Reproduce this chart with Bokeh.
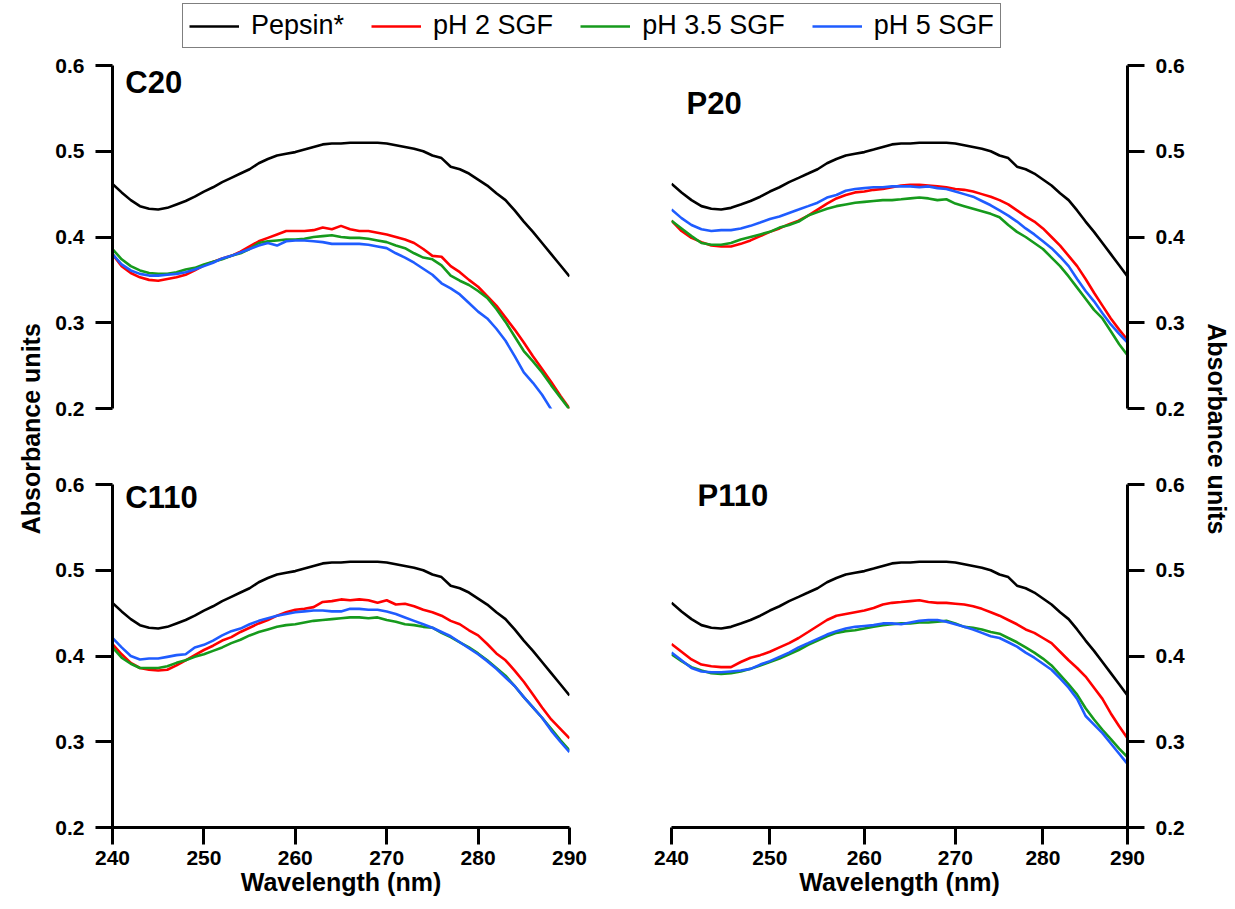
import math
from bokeh.plotting import figure
from bokeh.models import (Range1d, FixedTicker, PrintfTickFormatter, Label,
                          Legend, LegendItem, LogScale)
from bokeh.layouts import row, column
from bokeh.embed import file_html
from bokeh.resources import INLINE

NAN = float("nan")

# ---------------- data ----------------
wavelength = list(range(240, 291))

pepsin = [0.462, 0.452, 0.443, 0.436, 0.433, 0.432, 0.434, 0.438, 0.442, 0.447,
          0.453, 0.458, 0.464, 0.469, 0.474, 0.479, 0.486, 0.491, 0.495, 0.497,
          0.499, 0.502, 0.505, 0.508, 0.509, 0.509, 0.510, 0.510, 0.510, 0.510,
          0.509, 0.507, 0.505, 0.503, 0.500, 0.495, 0.492, 0.482, 0.479, 0.474,
          0.467, 0.460, 0.451, 0.443, 0.431, 0.418, 0.406, 0.393, 0.380, 0.367,
          0.354]

c20_ph2 = [0.380, 0.366, 0.358, 0.353, 0.350, 0.349, 0.351, 0.353, 0.356, 0.361,
           0.367, 0.371, 0.375, 0.378, 0.383, 0.389, 0.395, 0.399, 0.403, 0.407,
           0.407, 0.407, 0.408, 0.411, 0.409, 0.413, 0.409, 0.407, 0.407, 0.405,
           0.403, 0.400, 0.397, 0.393, 0.386, 0.378, 0.377, 0.366, 0.359, 0.350,
           0.342, 0.331, 0.320, 0.306, 0.292, 0.277, 0.261, 0.246, 0.231, 0.215,
           0.200]
c20_ph35 = [0.386, 0.374, 0.366, 0.361, 0.358, 0.357, 0.357, 0.359, 0.362, 0.364,
            0.368, 0.371, 0.374, 0.378, 0.381, 0.386, 0.393, 0.395, 0.396, 0.397,
            0.397, 0.398, 0.400, 0.401, 0.402, 0.400, 0.399, 0.399, 0.398, 0.396,
            0.394, 0.390, 0.387, 0.381, 0.376, 0.374, 0.367, 0.355, 0.349, 0.344,
            0.337, 0.329, 0.316, 0.301, 0.284, 0.267, 0.255, 0.242, 0.227, 0.213,
            0.199]
c20_ph5 = [0.380, 0.368, 0.361, 0.357, 0.355, 0.355, 0.356, 0.357, 0.359, 0.362,
           0.366, 0.370, 0.375, 0.378, 0.382, 0.386, 0.390, 0.393, 0.390, 0.395,
           0.396, 0.396, 0.395, 0.394, 0.392, 0.392, 0.392, 0.392, 0.391, 0.389,
           0.387, 0.381, 0.376, 0.370, 0.363, 0.356, 0.346, 0.340, 0.333, 0.323,
           0.313, 0.305, 0.293, 0.279, 0.261, 0.242, 0.230, 0.216, 0.199, NAN,
           NAN]

p20_ph2 = [0.419, 0.407, 0.399, 0.394, 0.390, 0.389, 0.389, 0.392, 0.396, 0.401,
           0.406, 0.410, 0.415, 0.419, 0.425, 0.432, 0.439, 0.445, 0.449, 0.452,
           0.453, 0.455, 0.456, 0.458, 0.460, 0.461, 0.461, 0.460, 0.459, 0.458,
           0.456, 0.455, 0.453, 0.450, 0.447, 0.443, 0.438, 0.431, 0.424, 0.418,
           0.410, 0.400, 0.390, 0.378, 0.366, 0.351, 0.335, 0.320, 0.305, 0.292,
           0.280]
p20_ph35 = [0.419, 0.410, 0.401, 0.393, 0.391, 0.391, 0.393, 0.397, 0.400, 0.403,
            0.406, 0.411, 0.414, 0.418, 0.425, 0.429, 0.433, 0.436, 0.438, 0.440,
            0.441, 0.442, 0.443, 0.443, 0.444, 0.445, 0.446, 0.445, 0.443, 0.444,
            0.439, 0.436, 0.433, 0.430, 0.427, 0.423, 0.414, 0.406, 0.400, 0.393,
            0.386, 0.376, 0.366, 0.354, 0.341, 0.328, 0.315, 0.305, 0.290, 0.275,
            0.262]
p20_ph5 = [0.432, 0.422, 0.414, 0.409, 0.407, 0.408, 0.408, 0.410, 0.413, 0.417,
           0.421, 0.424, 0.428, 0.432, 0.436, 0.440, 0.446, 0.449, 0.454, 0.456,
           0.457, 0.458, 0.458, 0.459, 0.459, 0.459, 0.458, 0.459, 0.457, 0.456,
           0.453, 0.450, 0.447, 0.442, 0.437, 0.431, 0.425, 0.418, 0.410, 0.403,
           0.395, 0.387, 0.377, 0.366, 0.351, 0.337, 0.325, 0.311, 0.298, 0.287,
           0.277]

c110_ph2 = [0.414, 0.402, 0.392, 0.386, 0.384, 0.383, 0.384, 0.389, 0.395, 0.401,
            0.407, 0.412, 0.418, 0.422, 0.428, 0.433, 0.438, 0.442, 0.447, 0.451,
            0.454, 0.455, 0.457, 0.463, 0.464, 0.466, 0.465, 0.466, 0.465, 0.462,
            0.465, 0.460, 0.461, 0.458, 0.454, 0.451, 0.447, 0.441, 0.437, 0.430,
            0.424, 0.414, 0.403, 0.395, 0.383, 0.370, 0.355, 0.340, 0.326, 0.315,
            0.304]
c110_ph35 = [0.410, 0.398, 0.391, 0.386, 0.386, 0.386, 0.388, 0.392, 0.395, 0.399,
             0.402, 0.406, 0.410, 0.415, 0.419, 0.424, 0.428, 0.431, 0.434, 0.436,
             0.437, 0.439, 0.441, 0.442, 0.443, 0.444, 0.445, 0.445, 0.444, 0.445,
             0.442, 0.440, 0.437, 0.436, 0.434, 0.433, 0.427, 0.422, 0.416, 0.410,
             0.403, 0.395, 0.386, 0.377, 0.365, 0.352, 0.340, 0.328, 0.315, 0.302,
             0.290]
c110_ph5 = [0.421, 0.410, 0.400, 0.396, 0.397, 0.397, 0.399, 0.401, 0.402, 0.410,
            0.413, 0.418, 0.424, 0.429, 0.432, 0.437, 0.441, 0.444, 0.447, 0.449,
            0.451, 0.452, 0.453, 0.453, 0.452, 0.452, 0.455, 0.455, 0.454, 0.454,
            0.452, 0.449, 0.445, 0.441, 0.437, 0.433, 0.428, 0.423, 0.416, 0.409,
            0.402, 0.394, 0.385, 0.375, 0.365, 0.352, 0.340, 0.328, 0.313, 0.300,
            0.288]

p110_ph2 = [0.414, 0.405, 0.396, 0.390, 0.388, 0.387, 0.387, 0.393, 0.398, 0.401,
            0.405, 0.410, 0.415, 0.421, 0.428, 0.435, 0.442, 0.447, 0.449, 0.451,
            0.453, 0.456, 0.460, 0.462, 0.463, 0.464, 0.465, 0.463, 0.462, 0.462,
            0.461, 0.460, 0.458, 0.455, 0.451, 0.447, 0.442, 0.437, 0.431, 0.427,
            0.421, 0.415, 0.405, 0.395, 0.386, 0.376, 0.363, 0.350, 0.333, 0.318,
            0.304]
p110_ph35 = [0.402, 0.394, 0.387, 0.383, 0.380, 0.379, 0.380, 0.382, 0.385, 0.389,
             0.393, 0.397, 0.402, 0.407, 0.413, 0.418, 0.423, 0.427, 0.429, 0.430,
             0.432, 0.434, 0.436, 0.437, 0.438, 0.438, 0.439, 0.439, 0.440, 0.441,
             0.438, 0.434, 0.433, 0.431, 0.428, 0.426, 0.421, 0.416, 0.410, 0.404,
             0.397, 0.389, 0.378, 0.367, 0.355, 0.339, 0.326, 0.314, 0.303, 0.292,
             0.282]
p110_ph5 = [0.404, 0.395, 0.386, 0.382, 0.381, 0.381, 0.382, 0.383, 0.385, 0.390,
            0.394, 0.399, 0.404, 0.410, 0.415, 0.420, 0.425, 0.429, 0.432, 0.434,
            0.435, 0.436, 0.438, 0.438, 0.437, 0.439, 0.441, 0.442, 0.442, 0.440,
            0.437, 0.434, 0.431, 0.427, 0.423, 0.421, 0.416, 0.411, 0.404, 0.398,
            0.391, 0.384, 0.374, 0.363, 0.350, 0.330, 0.320, 0.310, 0.298, 0.286,
            0.274]

series_names = ["Pepsin*", "pH 2 SGF", "pH 3.5 SGF", "pH 5 SGF"]
x_ticks = [240, 250, 260, 270, 280, 290]
y_ticks = [0.2, 0.3, 0.4, 0.5, 0.6]

# ---------------- style ----------------
FONT = "Liberation Sans"
COLORS = ["#000000", "#ff0000", "#169a1c", "#1f5cff"]
LW = 2.6


def style_axis(ax, ticks, fmt):
    ax.ticker = FixedTicker(ticks=ticks)
    ax.formatter = PrintfTickFormatter(format=fmt)
    ax.axis_line_width = 3
    ax.axis_line_color = "black"
    ax.major_tick_line_width = 3
    ax.major_tick_line_color = "black"
    ax.major_tick_out = 17
    ax.major_tick_in = 0
    ax.minor_tick_line_color = None
    ax.major_label_text_font = FONT
    ax.major_label_text_font_style = "bold"
    ax.major_label_text_font_size = "21px"
    ax.major_label_text_color = "black"


def panel(data, label, lx, ly, log_x, y_side, show_x, height, borders):
    left, right, top, bottom = borders
    p = figure(width=570, height=height,
               x_range=Range1d(240, 290), y_range=Range1d(0.2, 0.6),
               x_axis_type="log" if log_x else "linear",
               x_axis_location="below" if show_x else None,
               y_axis_location=y_side,
               output_backend="svg", toolbar_location=None,
               min_border_left=left, min_border_right=right,
               min_border_top=top, min_border_bottom=bottom)
    if log_x:
        p.x_scale = LogScale()
    p.outline_line_color = None
    p.grid.visible = False
    p.background_fill_color = "white"
    p.border_fill_color = "white"
    for ys, c in zip(data, COLORS):
        p.line(wavelength, ys, line_color=c, line_width=LW)
    for ax in p.yaxis:
        style_axis(ax, y_ticks, "%.1f")
        ax.major_label_standoff = 11
    if show_x:
        for ax in p.xaxis:
            style_axis(ax, x_ticks, "%d")
            ax.major_label_standoff = 6
            ax.axis_label = "Wavelength (nm)"
            ax.axis_label_text_font = FONT
            ax.axis_label_text_font_style = "bold"
            ax.axis_label_text_font_size = "25px"
            ax.axis_label_standoff = 0
            ax.axis_label_text_color = "black"
    p.add_layout(Label(x=lx, y=ly, text=label, text_font=FONT,
                       text_font_style="bold", text_font_size="31px",
                       text_align="left", text_baseline="middle",
                       text_color="black"))
    return p


tl = panel([pepsin, c20_ph2, c20_ph35, c20_ph5], "C20", 241.4, 0.58,
           False, "left", False, 397, (62, 51, 16, 38))
tr = panel([pepsin, p20_ph2, p20_ph35, p20_ph5], "P20", 241.5, 0.556,
           True, "right", False, 397, (51, 63, 16, 38))
bl = panel([pepsin, c110_ph2, c110_ph35, c110_ph5], "C110", 241.4, 0.585,
           False, "left", True, 463, (62, 51, 38, 82))
br = panel([pepsin, p110_ph2, p110_ph35, p110_ph5], "P110", 242.6, 0.587,
           True, "right", True, 463, (51, 63, 38, 82))


def blank(width, height):
    f = figure(width=width, height=height, x_range=Range1d(0, 1),
               y_range=Range1d(0, 1), x_axis_location=None,
               y_axis_location=None, output_backend="svg",
               toolbar_location=None, min_border=0)
    f.outline_line_color = None
    f.grid.visible = False
    return f


# legend strip
lg = blank(1227, 49)
items = []
for name, ys, c in zip(series_names, [pepsin, c20_ph2, c20_ph35, c20_ph5], COLORS):
    r = lg.line(wavelength, ys, line_color=c, line_width=LW)
    items.append(LegendItem(label=name, renderers=[r]))
legend = Legend(items=items, orientation="horizontal", location=(182, 1),
                label_text_font=FONT, label_text_font_size="27px",
                label_text_color="black", glyph_width=50, glyph_height=20,
                label_standoff=12, spacing=27, padding=6, margin=0,
                border_line_color="black", border_line_width=1.5,
                background_fill_color="white", background_fill_alpha=1)
lg.add_layout(legend)

# side strips with the y title
left_strip = blank(50, 860)
left_strip.add_layout(Label(x=0.6, y=0.559, text="Absorbance units",
                            angle=math.pi / 2, text_align="center",
                            text_baseline="middle", text_font=FONT,
                            text_font_style="bold", text_font_size="25px",
                            text_color="black"))
right_strip = blank(45, 860)
right_strip.add_layout(Label(x=0.578, y=0.559, text="Absorbance units",
                             angle=-math.pi / 2, text_align="center",
                             text_baseline="middle", text_font=FONT,
                             text_font_style="bold", text_font_size="25px",
                             text_color="black"))

layout = column(lg, row(left_strip, column(row(tl, tr), row(bl, br)), right_strip))

open("out.html", "w").write(file_html(layout, INLINE))
